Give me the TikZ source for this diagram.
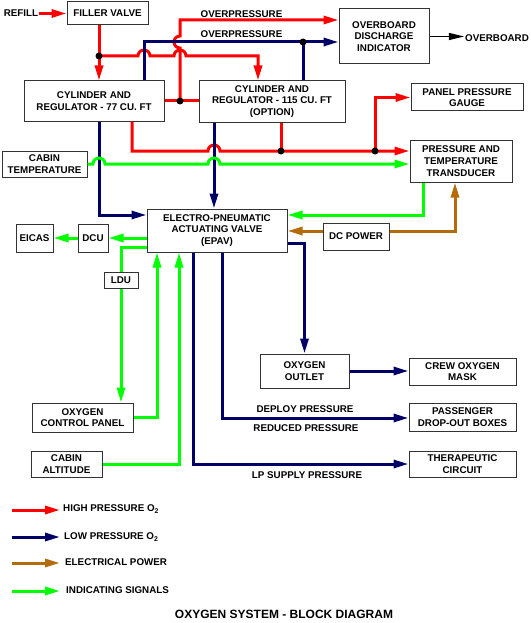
\documentclass[tikz,border=0pt]{standalone}
\usepackage{fontspec}
\setmainfont{Liberation Sans}
\usepackage{xcolor}
\usepackage{tikz}
\usetikzlibrary{arrows.meta}
\definecolor{hpred}{RGB}{255,0,0}
\definecolor{lpblue}{RGB}{0,0,102}
\definecolor{pwrbrown}{RGB}{180,108,10}
\definecolor{siggreen}{RGB}{0,255,0}
\tikzset{
    unit/.style={rectangle, draw=black!80, line width=1pt, fill=white, inner sep=0pt, text centered, align=center},
    linetxt/.style={inner sep=1pt},
    legendtxt/.style={inner sep=3pt, anchor=west},
    tip/.style={-{Triangle[length=15pt,width=8pt]}},
    hpline/.style={draw=hpred, line width=3pt},
    lpline/.style={draw=lpblue, line width=3pt},
    sigline/.style={draw=siggreen, line width=3pt},
    hp/.style={hpline, tip},
    lp/.style={lpline, tip},
    elec/.style={draw=pwrbrown, line width=3pt, tip},
    sig/.style={sigline, tip},
    vent/.style={draw=black, line width=1.2pt, -{Triangle[length=15pt,width=7pt]}}
}
\begin{document}
\begin{tikzpicture}[x=1pt, y=-1pt, font=\fontsize{9.8}{11.7}\selectfont\bfseries]
    \useasboundingbox (0,0) rectangle (530,623);

    % Oxygen supply
    \node[unit, minimum width=81pt, minimum height=23pt] (filler) at (107.5,13.5) {FILLER VALVE};
    \node[unit, minimum width=140pt, minimum height=40pt] (cyl77) at (94,101) {CYLINDER AND\\REGULATOR - 77 CU. FT};
    \node[unit, minimum width=146pt, minimum height=41pt] (cyl115) at (272,101.5) {CYLINDER AND\\REGULATOR - 115 CU. FT\\(OPTION)};
    \node[unit, minimum width=90pt, minimum height=55pt] (odi) at (384,36.5) {OVERBOARD\\DISCHARGE\\INDICATOR};
    \node[unit, minimum width=112pt, minimum height=27pt] (ppg) at (467,97.5) {PANEL PRESSURE\\GAUGE};
    \node[unit, minimum width=102pt, minimum height=42pt] (ptt) at (461,161) {PRESSURE AND\\TEMPERATURE\\TRANSDUCER};
    \node[unit, minimum width=85pt, minimum height=26pt] (cabtemp) at (44.5,164) {CABIN\\TEMPERATURE};

    % Valve and signals
    \node[unit, minimum width=140pt, minimum height=43pt] (epav) at (217,230.5) {ELECTRO-PNEUMATIC\\ACTUATING VALVE\\(EPAV)};
    \node[unit, minimum width=30pt, minimum height=28pt] (dcu) at (93,238) {DCU};
    \node[unit, minimum width=37pt, minimum height=28pt] (eicas) at (34.5,238) {EICAS};
    \node[unit, minimum width=66pt, minimum height=27pt] (dcpower) at (356,236.5) {DC POWER};
    \node[unit, minimum width=34pt, minimum height=16pt] (ldu) at (121,280) {LDU};
    \node[unit, minimum width=101pt, minimum height=29pt] (ocp) at (82.5,417.5) {OXYGEN\\CONTROL PANEL};
    \node[unit, minimum width=71pt, minimum height=26pt] (cabalt) at (66.5,464) {CABIN\\ALTITUDE};

    % Consumers
    \node[unit, minimum width=89pt, minimum height=34pt] (outlet) at (304.5,371) {OXYGEN\\OUTLET};
    \node[unit, minimum width=107pt, minimum height=27pt] (mask) at (462.5,371.5) {CREW OXYGEN\\MASK};
    \node[unit, minimum width=107pt, minimum height=28pt] (pdob) at (462.5,417) {PASSENGER\\DROP-OUT BOXES};
    \node[unit, minimum width=107pt, minimum height=26pt] (thera) at (462.5,464) {THERAPEUTIC\\CIRCUIT};

    % Line texts
    \node[linetxt] (refill) at (21,13.5) {REFILL};
    \node[linetxt] (overboard) at (497,38) {OVERBOARD};
    \node[linetxt] (overpress1) at (241.5,14) {OVERPRESSURE};
    \node[linetxt] (overpress2) at (241.5,34) {OVERPRESSURE};
    \node[linetxt] (deploy) at (305,409) {DEPLOY PRESSURE};
    \node[linetxt] (reduced) at (306,428) {REDUCED PRESSURE};
    \node[linetxt] (lpsupply) at (307,475) {LP SUPPLY PRESSURE};

    % Junctions and bends
    \coordinate (jfill) at (99,56);
    \coordinate (jmid) at (180,101);
    \coordinate (jovb) at (303,42);
    \coordinate (jgauge) at (281,151);
    \coordinate (jpanel) at (375,151);
    \coordinate (rfeed) at (258,56);
    \coordinate (rvent) at (180,20);
    \coordinate (bvent) at (144,42);
    \coordinate (rlow) at (132,151);
    \coordinate (b77) at (99,215);
    \coordinate (b115) at (214,151);
    \coordinate (gtrans) at (423,215);
    \coordinate (pwr) at (455,231);
    \coordinate (gldu) at (121,247);
    \coordinate (gpanel) at (157,417);
    \coordinate (galt) at (179,464);
    \coordinate (bdrop) at (222,418);
    \coordinate (bther) at (193,464);
    \coordinate (boutlet) at (304.5,243);
    % Line crossings
    \coordinate (hop1) at (144,56);
    \coordinate (hop2) at (180,56);
    \coordinate (hop3) at (180,42);
    \coordinate (hop4) at (214,151);
    \coordinate (hop5) at (99,164);
    \coordinate (hop6) at (214,164);

    % High pressure O2
    \draw[hp] (refill.east) -- (refill.east -| filler.west);
    \draw[hp] (filler.south -| jfill) -- (cyl77.north -| jfill);
    \draw[hp] (jfill) -- ([xshift=-6pt]hop1) arc[start angle=180, end angle=360, radius=6]
        -- ([xshift=-6pt]hop2) arc[start angle=180, end angle=360, radius=6]
        -- (rfeed) -- (cyl115.north -| rfeed);
    \draw[hpline] (cyl77.east |- jmid) -- (cyl115.west |- jmid);
    \draw[hp] (jmid) -- ([yshift=-6pt]hop3) arc[start angle=90, end angle=270, radius=6]
        -- (rvent) -- (odi.west |- rvent);
    \draw[hp] (cyl77.south -| rlow) -- (rlow) -- ([xshift=-6pt]hop4) arc[start angle=180, end angle=360, radius=6]
        -- (ptt.west |- rlow);
    \draw[hpline] (cyl115.south -| jgauge) -- (jgauge);
    \draw[hp] (jpanel) |- (ppg.west);

    % Low pressure O2
    \draw[lp] (cyl77.north -| bvent) -- (bvent) -- (odi.west |- bvent);
    \draw[lpline] (cyl115.north -| jovb) -- (jovb);
    \draw[lp] (cyl77.south -| b77) -- (b77) -- (epav.west |- b77);
    \draw[lp] (cyl115.south -| b115) -- (epav.north -| b115);
    \draw[lp] (epav.east |- boutlet) -- (boutlet) -- (outlet.north);
    \draw[lp] (outlet.east) -- (mask.west |- outlet.east);
    \draw[lp] (epav.south -| bdrop) -- (bdrop) -- (pdob.west |- bdrop);
    \draw[lp] (epav.south -| bther) -- (bther) -- (thera.west |- bther);

    % Electrical power
    \draw[elec] (dcpower.west |- pwr) -- (epav.east |- pwr);
    \draw[elec] (dcpower.east |- pwr) -- (pwr) -- (ptt.south -| pwr);

    % Indicating signals
    \draw[sig] (cabtemp.east) -- ([xshift=-6pt]hop5) arc[start angle=180, end angle=360, radius=6]
        -- ([xshift=-6pt]hop6) arc[start angle=180, end angle=360, radius=6]
        -- (ptt.west |- cabtemp.east);
    \draw[sig] (ptt.south -| gtrans) -- (gtrans) -- (epav.east |- gtrans);
    \draw[sig] (epav.west |- dcu) -- (dcu.east);
    \draw[sig] (dcu.west) -- (eicas.east);
    \draw[sigline] (epav.west |- gldu) -- (gldu) -- (ldu.north);
    \draw[sig] (ldu.south) -- (ocp.north -| ldu.south);
    \draw[sig] (ocp.east |- gpanel) -- (gpanel) -- (epav.south -| gpanel);
    \draw[sig] (cabalt.east) -- (galt) -- (epav.south -| galt);

    % Overboard
    \draw[vent] (odi.east) -- (overboard.west |- odi.east);

    % Junction dots
    \fill (jfill) circle[radius=3.5];
    \fill (jmid) circle[radius=3.5];
    \fill (jovb) circle[radius=3.5];
    \fill (jgauge) circle[radius=3.5];
    \fill (jpanel) circle[radius=3.5];

    % Legend
    \coordinate (keyhp) at (12,510);
    \coordinate (keylp) at (12,537);
    \coordinate (keyel) at (12,563);
    \coordinate (keysig) at (12,591);
    \node[legendtxt] (keyhptxt) at (60,509) {HIGH PRESSURE\ O\textsubscript{2}};
    \node[legendtxt] (keylptxt) at (61,537) {LOW PRESSURE\ O\textsubscript{2}};
    \node[legendtxt] (keyeltxt) at (62,562) {ELECTRICAL POWER};
    \node[legendtxt] (keysigtxt) at (63,590) {INDICATING SIGNALS};
    \draw[hp] (keyhp) -- (keyhp -| keyhptxt.west);
    \draw[lp] (keylp) -- (keylp -| keyhptxt.west);
    \draw[elec] (keyel) -- (keyel -| keyhptxt.west);
    \draw[sig] (keysig) -- (keysig -| keyhptxt.west);

    \node[font=\fontsize{12}{14}\selectfont\bfseries] (title) at (284,614) {OXYGEN SYSTEM - BLOCK DIAGRAM};
\end{tikzpicture}
\end{document}
